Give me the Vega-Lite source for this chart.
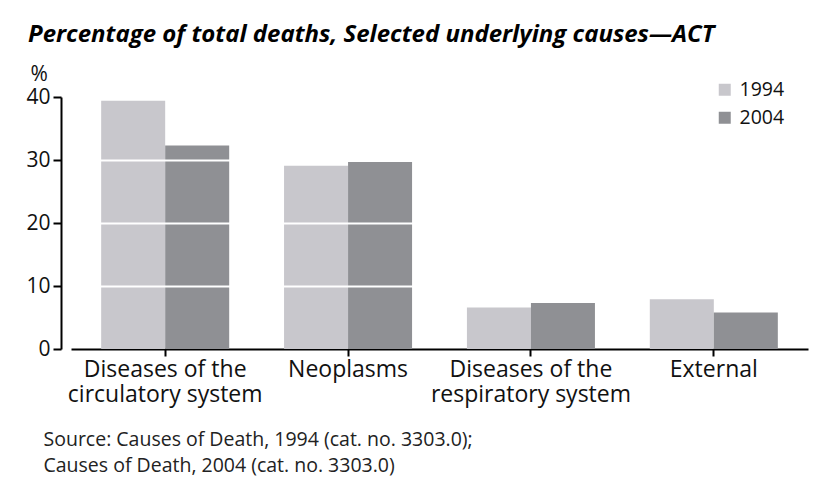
{
  "$schema": "https://vega.github.io/schema/vega-lite/v6.json",
  "autosize": {"type": "none"},
  "width": 737,
  "height": 252,
  "padding": {"left": 71, "top": 97, "right": 32, "bottom": 149},
  "background": "white",
  "title": {
    "text": "Percentage of total deaths, Selected underlying causes—ACT",
    "anchor": "start",
    "frame": "group",
    "font": "Open Sans",
    "fontSize": 24,
    "fontWeight": "bold",
    "fontStyle": "italic",
    "color": "#000000",
    "dx": -43,
    "dy": 45,
    "offset": 42,
    "baseline": "alphabetic"
  },
  "data": {
    "values": [
      {"cause": "Diseases of the circulatory system", "year": "1994", "pct": 39.4},
      {"cause": "Diseases of the circulatory system", "year": "2004", "pct": 32.3},
      {"cause": "Neoplasms", "year": "1994", "pct": 29.1},
      {"cause": "Neoplasms", "year": "2004", "pct": 29.7},
      {"cause": "Diseases of the respiratory system", "year": "1994", "pct": 6.6},
      {"cause": "Diseases of the respiratory system", "year": "2004", "pct": 7.3},
      {"cause": "External", "year": "1994", "pct": 7.9},
      {"cause": "External", "year": "2004", "pct": 5.8}
    ]
  },
  "mark": {"type": "bar"},
  "encoding": {
    "x": {
      "field": "cause",
      "type": "nominal",
      "sort": null,
      "scale": {"paddingInner": 0.3, "paddingOuter": 0.165},
      "axis": {
        "labelAngle": 0,
        "labelFont": "Open Sans",
        "labelFontSize": 23,
        "labelColor": "#111111",
        "labelLineHeight": 25,
        "labelPadding": 2,
        "labelBaseline": "top",
        "labelLimit": 0,
        "labelExpr": "indexof(datum.label, 'Diseases') === 0 ? ['Diseases of the', slice(datum.label, 16)] : datum.label",
        "domainColor": "#000000",
        "domainWidth": 2,
        "tickColor": "#000000",
        "tickWidth": 2,
        "tickSize": 7,
        "title": ["Source: Causes of Death, 1994 (cat. no. 3303.0);", "Causes of Death, 2004 (cat. no. 3303.0)"],
        "titleFont": "Open Sans",
        "titleFontSize": 19.5,
        "titleFontWeight": "normal",
        "titleColor": "#222222",
        "titleLineHeight": 26,
        "titleAnchor": "start",
        "titleAlign": "left",
        "titleBaseline": "alphabetic",
        "titleX": -28,
        "titleY": 96
      }
    },
    "xOffset": {"field": "year", "type": "nominal", "scale": {"paddingInner": 0, "paddingOuter": 0}},
    "y": {
      "field": "pct",
      "type": "quantitative",
      "scale": {"domain": [0, 40], "nice": false},
      "axis": {
        "values": [0, 10, 20, 30, 40],
        "offset": 10,
        "zindex": 1,
        "grid": true,
        "gridColor": "#ffffff",
        "gridWidth": 2,
        "gridOpacity": {"condition": {"test": "datum.value === 0 || datum.value === 40", "value": 0}, "value": 1},
        "labelFont": "Open Sans",
        "labelFontSize": 21,
        "labelColor": "#111111",
        "labelPadding": 3,
        "domainColor": "#000000",
        "domainWidth": 2,
        "tickColor": "#000000",
        "tickWidth": 2,
        "tickSize": 8,
        "title": "%",
        "titleAngle": 0,
        "titleFont": "Open Sans",
        "titleFontSize": 21,
        "titleFontWeight": "normal",
        "titleColor": "#111111",
        "titleAlign": "left",
        "titleBaseline": "alphabetic",
        "titleX": -31,
        "titleY": -17
      }
    },
    "color": {
      "field": "year",
      "type": "nominal",
      "scale": {"domain": ["1994", "2004"], "range": ["#c8c7cc", "#8f9094"]},
      "legend": {
        "title": null,
        "orient": "none",
        "legendX": 644,
        "legendY": -17,
        "symbolType": "square",
        "symbolSize": 144,
        "symbolStrokeWidth": 0,
        "labelFont": "Open Sans",
        "labelFontSize": 19.5,
        "labelColor": "#111111",
        "labelOffset": 5,
        "rowPadding": 7,
        "padding": 0
      }
    }
  },
  "config": {
    "view": {"stroke": null}
  }
}
